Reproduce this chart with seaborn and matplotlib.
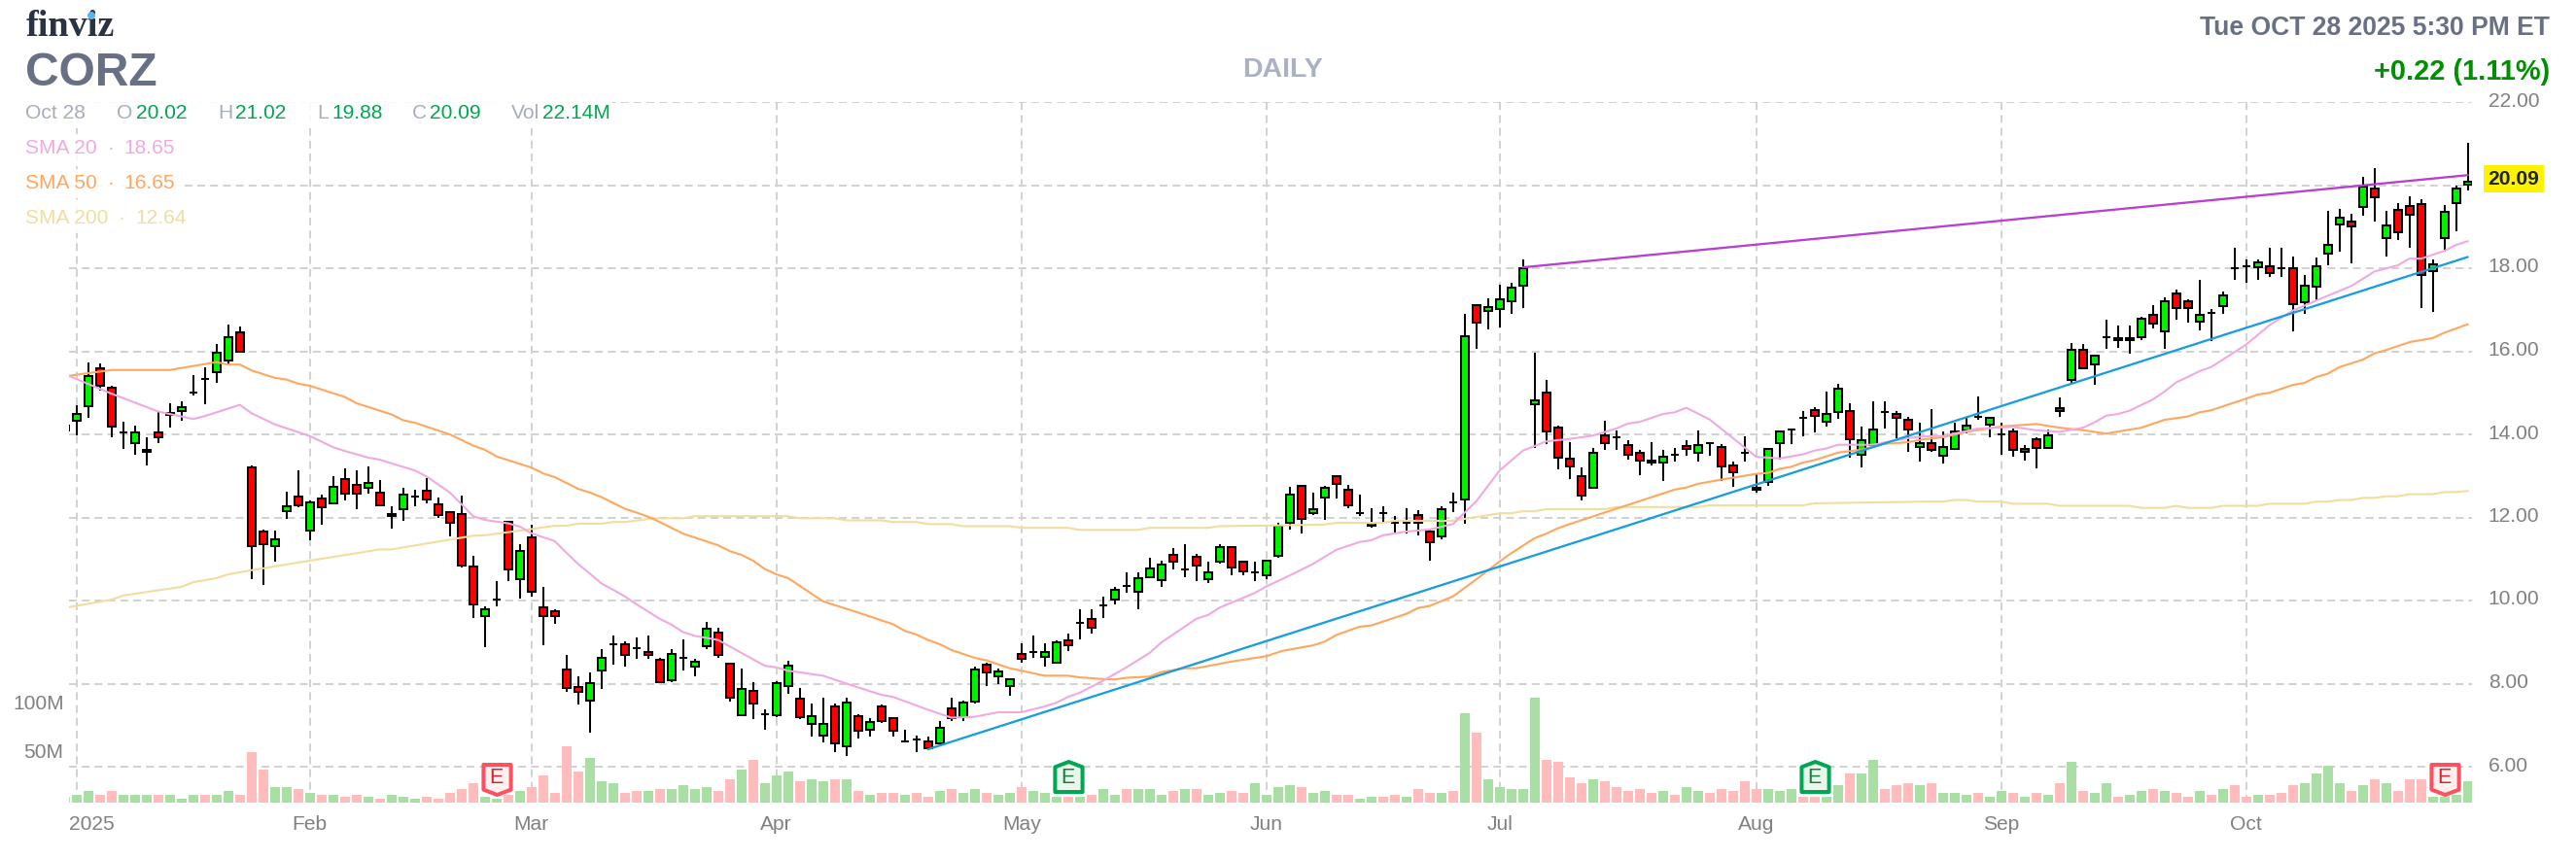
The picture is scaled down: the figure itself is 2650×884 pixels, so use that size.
import matplotlib
matplotlib.use("Agg")
import matplotlib.pyplot as plt
from matplotlib.path import Path
from matplotlib.patches import Rectangle, Ellipse
from matplotlib.transforms import ScaledTranslation
import seaborn as sns

W, H = 2650, 884
sns.set_theme(style="white")
plt.rcParams["font.family"] = ["Liberation Sans", "DejaVu Sans"]

# ---------- data ----------
candle_index = list(range(-1, 206))
opens = [14.2,
 14.32,14.69,15.60,15.13,14.04,13.80,13.63,14.05,14.52,14.55,
 15.0,15.34,15.49,15.77,16.45,13.21,11.66,11.32,12.16,12.5,
 11.69,12.46,12.35,12.92,12.78,12.72,12.6,12.09,12.21,12.5,
 12.64,12.32,12.13,12.08,10.82,9.63,10.02,11.9,10.52,11.52,
 9.84,9.74,8.34,7.92,7.58,8.32,8.95,8.95,8.85,8.76,
 8.57,8.09,8.62,8.42,8.89,9.23,8.48,7.25,7.82,7.26,
 7.25,7.95,7.64,7.03,6.75,7.45,6.5,7.22,6.89,7.45,
 7.17,6.6,6.65,6.61,6.56,7.4,7.2,7.56,8.45,8.18,
 7.95,8.71,8.76,8.65,8.51,9.04,9.46,9.56,9.88,10.02,
 10.34,10.2,10.57,10.48,11.1,10.76,11.05,10.52,10.94,11.29,
 10.93,10.67,10.6,11.08,11.86,12.77,12.1,12.47,13.0,12.67,
 12.1,11.87,12.1,11.87,11.87,12.07,11.65,11.54,12.36,12.43,
 17.12,16.96,17.01,17.2,17.57,14.72,15.01,14.17,13.42,13.0,
 12.71,13.98,13.94,13.75,13.56,13.37,13.31,13.51,13.71,13.55,
 13.79,13.7,13.24,13.56,12.72,12.85,13.78,14.12,14.4,14.59,
 14.3,14.53,14.55,13.5,13.74,14.54,14.5,14.36,13.69,13.79,
 13.49,13.65,14.1,14.43,14.24,14.01,14.07,13.64,13.88,13.68,
 14.63,15.31,16.03,15.69,16.35,16.32,16.32,16.33,16.87,16.48,
 17.39,17.2,16.72,16.92,17.09,17.99,18.04,18.03,18.04,17.99,
 18.0,17.19,17.56,18.36,19.06,19.12,19.48,19.91,18.73,19.4,
 19.49,19.54,17.93,18.73,19.57,20.02]
closes = [14.09,
 14.48,15.41,15.16,14.18,14.04,14.05,13.57,13.94,14.46,14.66,
 15.0,15.34,15.97,16.35,16.0,11.32,11.36,11.47,12.27,12.3,
 12.36,12.25,12.74,12.58,12.58,12.83,12.3,12.03,12.55,12.5,
 12.44,12.07,11.88,10.85,9.91,9.79,10.02,10.76,11.19,10.2,
 9.63,9.63,7.9,7.81,8.01,8.62,8.95,8.7,8.85,8.68,
 8.04,8.71,8.62,8.53,9.32,8.7,7.67,7.87,7.53,7.26,
 8.01,8.43,7.2,7.22,7.03,6.55,7.54,6.87,7.08,7.11,
 6.87,6.6,6.65,6.45,6.94,7.17,7.54,8.34,8.28,8.29,
 8.11,8.6,8.76,8.76,9.0,8.93,9.46,9.35,9.88,10.26,
 10.34,10.54,10.77,10.86,10.94,10.76,10.85,10.68,11.29,10.8,
 10.71,10.67,10.96,11.8,12.54,11.96,12.21,12.72,12.8,12.29,
 12.1,11.81,12.1,11.87,11.87,11.87,11.4,12.21,12.36,16.37,
 16.68,17.07,17.26,17.54,18.01,14.83,14.06,13.45,13.22,12.52,
 13.56,13.78,13.94,13.5,13.36,13.31,13.47,13.51,13.65,13.75,
 13.79,13.22,13.08,13.56,12.66,13.66,14.08,14.12,14.4,14.44,
 14.5,15.11,13.88,13.85,14.12,14.54,14.39,14.11,13.8,13.63,
 13.69,14.07,14.21,14.43,14.4,14.01,13.63,13.58,13.68,13.97,
 14.57,16.03,15.59,15.89,16.35,16.26,16.26,16.78,16.67,17.2,
 17.05,17.05,16.87,16.92,17.34,17.99,18.04,18.14,17.89,17.99,
 17.14,17.58,18.04,18.56,19.21,19.01,19.96,19.71,19.03,18.87,
 19.29,17.84,18.09,19.35,19.91,20.09]
highs = [14.2,
 14.71,15.74,15.71,15.18,14.30,14.2,13.92,14.57,14.76,14.80,
 15.43,15.61,16.17,16.64,16.6,13.26,11.71,11.68,12.61,13.13,
 12.41,12.56,12.99,13.17,13.13,13.22,12.89,12.28,12.71,12.66,
 12.94,12.47,12.13,12.52,11.07,9.85,10.46,11.9,11.35,11.82,
 10.32,9.79,8.68,8.17,8.26,8.82,9.15,9.01,9.1,9.15,
 8.63,8.82,9.06,8.59,9.48,9.34,8.48,8.36,8.03,7.37,
 8.07,8.54,7.89,7.51,7.65,7.51,7.65,7.26,7.17,7.5,
 7.17,6.9,6.76,6.72,7.09,7.65,7.59,8.4,8.5,8.36,
 8.11,8.96,9.15,8.96,9.04,9.2,9.8,9.8,10.09,10.32,
 10.69,10.69,11.02,10.97,11.26,11.35,11.12,10.93,11.35,11.29,
 10.97,10.93,10.96,11.86,12.74,12.77,12.6,12.77,13.0,12.78,
 12.55,12.22,12.27,12.04,12.22,12.18,11.71,12.27,12.6,16.9,
 17.12,17.28,17.6,17.65,18.21,15.97,15.31,14.22,13.81,13.2,
 13.67,14.33,14.09,13.86,13.63,13.81,13.63,13.67,13.86,14.09,
 13.79,13.77,13.35,13.95,13.06,13.66,14.08,14.12,14.56,14.65,
 15.03,15.22,14.75,14.19,14.8,14.8,14.56,14.42,14.28,14.6,
 14.08,14.27,14.41,14.92,14.4,14.27,14.13,13.75,13.94,14.11,
 14.88,16.19,16.17,15.89,16.75,16.61,16.61,16.83,17.12,17.3,
 17.48,17.25,17.71,17.01,17.43,18.48,18.2,18.2,18.48,18.48,
 18.29,17.83,18.25,19.37,19.42,19.32,20.21,20.4,19.37,19.56,
 19.74,19.65,18.2,19.51,19.98,21.02]
lows = [14.09,
 13.98,14.40,15.06,13.92,13.65,13.52,13.24,13.8,14.16,14.32,
 14.93,14.73,15.24,15.68,16.0,10.52,10.37,10.94,11.96,12.25,
 11.44,11.82,12.35,12.42,12.19,12.57,12.3,11.72,11.91,12.28,
 12.33,12.0,11.54,10.79,9.57,8.87,9.85,10.46,10.04,10.09,
 8.92,9.43,7.79,7.5,6.81,7.86,8.45,8.4,8.59,8.59,
 8.04,8.04,8.31,8.17,8.82,8.63,7.56,7.25,7.14,6.9,
 7.19,7.75,7.14,6.72,6.58,6.34,6.25,6.67,6.72,7.06,
 6.72,6.6,6.34,6.41,6.56,7.09,7.09,7.51,7.93,7.98,
 7.7,8.5,8.63,8.4,8.51,8.78,9.06,9.2,9.57,9.9,
 10.18,9.8,10.57,10.32,10.74,10.55,10.46,10.41,10.88,10.6,
 10.6,10.46,10.51,11.02,11.71,11.61,12.05,11.94,12.46,12.22,
 12.04,11.75,11.85,11.61,11.61,11.57,10.96,11.47,12.13,11.85,
 16.06,16.53,16.57,16.9,17.04,13.67,13.77,13.16,12.92,12.41,
 12.71,13.63,13.63,13.39,13.02,13.25,12.88,13.34,13.49,13.34,
 13.49,12.88,12.74,13.34,12.6,12.75,13.39,13.77,13.95,14.05,
 14.19,14.37,13.45,13.21,13.74,14.14,13.9,13.58,13.35,13.57,
 13.3,13.65,14.02,14.36,13.94,13.52,13.47,13.38,13.19,13.68,
 14.41,15.25,15.59,15.2,16.05,16.09,15.95,16.28,16.56,16.05,
 16.75,16.7,16.51,16.24,16.89,17.73,17.64,17.73,17.78,17.78,
 16.47,16.89,17.22,18.06,18.39,18.11,19.27,19.13,18.29,18.67,
 18.48,17.03,16.94,18.39,18.9,19.88]
volumes = [6,
 8,12,8,12,8,8,8,8,8,4,
 8,8,8,12,8,52,34,16,16,14,
 10,8,8,6,8,6,4,8,6,4,
 6,4,10,14,20,6,4,8,12,16,
 28,10,58,32,46,22,20,10,12,12,
 14,14,18,14,16,12,24,34,44,20,
 28,32,22,24,22,24,24,12,8,10,
 10,8,10,6,12,14,10,14,10,8,
 10,16,12,10,6,6,6,8,14,8,
 14,14,14,8,12,14,14,8,10,12,
 10,20,8,16,18,16,10,12,8,8,
 4,6,6,8,6,14,10,10,12,92,
 72,24,16,14,14,108,44,42,26,20,
 24,22,16,12,14,10,12,8,16,12,
 10,14,12,22,14,14,12,14,6,6,
 6,18,30,30,44,14,18,20,18,20,
 10,10,8,10,6,12,10,6,10,8,
 20,42,12,10,20,6,8,12,14,12,
 10,6,12,8,14,18,6,8,8,10,
 18,20,30,38,20,12,18,24,20,12,
 24,24,6,6,8,22]
volume_direction = list(
 "r"
 "ggrrgggrgggrggr" "rrggrg"
 "rgrrgrgggr" "rrrrggrgrr" "rrrgggrr"
 "grggggrrgr" "gggrggrgrg" "rrgrrgrggr" "ggrgggrgrg"
 "grgggrgrgg" "rrggg"
 "grggrrggrr" "grrgrgrggg" "ggrrrrgrrr" "rrgrggrrrr"
 "rgggrrggrg" "grrrgrgggr" "ggrgrgrgrg" "grggrgrrgr"
 "grrgrrrggg" "grgrgrrrgg" "gg")

sma20_x = [-0.67,3,7,10,11,14,15,17,20,22,23,25,26,29,30,32,33,34,35,37,38,39,41,42,43,44,45,46,47,48,50,51,52,53,55,57,59,60,61,64,66,69,70,73,75,77,79,81,83,84,85,86,88,90,92,93,96,97,98,101,102,103.4,106,108,110,111,112,114,116,118,120,122,124,126,128,130,132,133,134,136,137,138,140,142,144,146,148,149,150,151,154,157,158.3,160,163,166,168,170,172,173,174,175,176,178,179,180,182,183,186,188,190,192,195,197,199,200,201,203,204,205]
sma20_y = [15.41,14.98,14.55,14.37,14.44,14.71,14.51,14.24,13.96,13.69,13.6,13.44,13.39,13.13,12.99,12.6,12.32,12.03,11.94,11.86,11.78,11.62,11.43,11.15,10.88,10.65,10.41,10.26,10.1,9.91,9.56,9.42,9.24,9.15,9.05,8.74,8.43,8.39,8.31,8.19,8.0,7.73,7.68,7.37,7.18,7.2,7.31,7.31,7.45,7.54,7.68,7.78,8.07,8.39,8.74,8.99,9.56,9.65,9.83,10.18,10.34,10.52,10.88,11.22,11.41,11.45,11.57,11.66,11.71,11.84,12.39,13.13,13.61,13.83,13.89,13.97,14.14,14.26,14.3,14.49,14.53,14.64,14.36,13.91,13.46,13.42,13.52,13.61,13.66,13.75,13.75,13.91,13.95,13.96,14.14,14.18,14.1,14.06,14.16,14.29,14.45,14.49,14.57,14.84,15.03,15.25,15.52,15.62,16.16,16.63,16.98,17.22,17.57,17.92,18.07,18.23,18.23,18.42,18.56,18.65]
sma50_x = [-0.67,3,8,12,13,14,15,17,18,19,20,23,24,27,28,29,32,34,35,36,39,40,41,43,44,45,47,48.4,49.5,52,55,56,57,58,59,60,61,64,67,70,71,72,73,74,75,77,78,80,81,83,85,86,88,89,90,92,93,95,96,99,102,103.4,106,107,108,110,111,114,115,116,118,120,122,123,125,126,127,128,132,137,138,139,141,144,145,146,147,148,149,151,153,155,157,158.3,160,162,165,168,170,172,174,177,179,181,182,183,186,187,188,190,191,192,193,194,196,197,198,200,202,203,204,205]
sma50_y = [15.41,15.55,15.55,15.74,15.68,15.68,15.54,15.36,15.32,15.22,15.17,14.9,14.75,14.48,14.34,14.28,14.0,13.73,13.63,13.47,13.2,13.06,12.97,12.69,12.6,12.49,12.21,12.08,11.96,11.61,11.33,11.19,11.1,10.96,10.76,10.63,10.54,9.98,9.71,9.43,9.27,9.18,9.05,8.95,8.81,8.62,8.56,8.37,8.31,8.19,8.19,8.15,8.11,8.1,8.14,8.17,8.28,8.37,8.37,8.53,8.66,8.79,8.92,9.01,9.17,9.37,9.4,9.68,9.82,9.87,10.1,10.51,10.94,11.14,11.5,11.61,11.74,11.84,12.21,12.67,12.72,12.81,12.91,13.05,13.07,13.17,13.22,13.32,13.38,13.56,13.63,13.77,13.81,13.88,13.93,14.06,14.19,14.25,14.16,14.1,14.02,14.16,14.35,14.43,14.53,14.58,14.86,14.96,15.0,15.19,15.24,15.38,15.46,15.62,15.8,15.95,16.03,16.22,16.32,16.45,16.55,16.65]
sma200_x = [-0.67,3,4,9,10,12,13,15,20,26,27,34,35,39,41,42,43,45,46,47,48.4,49.5,52,53,61,62,65,66,69,70,72,73,75,76,80,81,85,86,91,92,97,98,103.4,107,108,112,113,118,120,122,123,124,125,126,131,132,139,140,148,149,158.3,160,161,162,163,165,166,169,170,176,177,179,180,181,183,184,187,188,191,192,193,194,195,196,197,198,199,200,202,203,204,205]
sma200_y = [9.84,10.02,10.12,10.33,10.44,10.54,10.63,10.73,10.96,11.23,11.23,11.56,11.57,11.72,11.8,11.8,11.85,11.85,11.89,11.89,11.94,11.98,11.98,12.03,12.03,11.98,11.98,11.93,11.93,11.89,11.89,11.84,11.84,11.79,11.79,11.75,11.75,11.7,11.7,11.75,11.75,11.79,11.81,11.83,11.87,11.87,11.92,11.92,12.01,12.1,12.1,12.15,12.15,12.2,12.2,12.25,12.25,12.29,12.29,12.34,12.38,12.38,12.42,12.42,12.38,12.38,12.33,12.33,12.28,12.28,12.23,12.23,12.28,12.23,12.23,12.28,12.28,12.33,12.33,12.38,12.38,12.42,12.42,12.47,12.47,12.51,12.51,12.56,12.56,12.61,12.61,12.64]

trend_blue_x, trend_blue_y = [73, 205], [6.42, 18.27]
trend_purple_x, trend_purple_y = [124, 205], [18.02, 20.24]

month_ticks = [0, 20, 39, 60, 81, 102, 122, 144, 165, 186]
month_labels = ["2025", "Feb", "Mar", "Apr", "May", "Jun", "Jul", "Aug", "Sep", "Oct"]
price_ticks = [6, 8, 10, 12, 14, 16, 18, 20, 22]
price_labels = ["6.00", "8.00", "10.00", "12.00", "14.00", "16.00", "18.00", "", "22.00"]
volume_ticks = [50, 100]
volume_labels = ["50M", "100M"]

earnings_red = [36, 203]
earnings_green = [85, 149]

# ---------- colours ----------
GRID = "#d2d2d2"
TICK = "#808080"
SLATE = "#677084"
C_20, C_50, C_200 = "#efabe0", "#ffa75f", "#f1dda0"
LABEL_GRAY = "#a6acbc"
VALUE_GREEN = "#00a651"

# ---------- layout (pixels) ----------
left, right, top, bottom = 70.7, 2543.0, 105.0, 826.0
fig = plt.figure(figsize=(W / 100, H / 100), dpi=100, facecolor="white")
ax = fig.add_axes([left / W, 1 - bottom / H, (right - left) / W, (bottom - top) / H])
vol_ax = ax.twinx()
vol_ax.set_zorder(ax.get_zorder() + 1)
vol_ax.patch.set_visible(False)
px = 1.0 / 100 * 72  # points per pixel

# ---------- volume ----------
sns.barplot(x=candle_index, y=volumes, hue=volume_direction,
            palette={"g": "#a9dfa5", "r": "#ffbcbc"}, hue_order=["g", "r"],
            native_scale=True, dodge=False, width=10 / 12, saturation=1,
            errorbar=None, legend=False, ax=vol_ax, linewidth=0)
vol_ax.set_ylim(0, bottom - top)

# ---------- candles ----------
ax.vlines(candle_index, lows, highs, color="black", lw=2 * px, zorder=3)
up = ["#00f000" if c >= o else "#ff0000" for o, c in zip(opens, closes)]
ax.bar(candle_index, [c - o for o, c in zip(opens, closes)], bottom=opens,
       width=7.6 / 12, color=up, edgecolor="black", linewidth=2 * px, zorder=4)

# ---------- moving averages and trend lines ----------
sns.lineplot(x=sma200_x, y=sma200_y, color=C_200, lw=2.1 * px, ax=ax, zorder=5, errorbar=None)
sns.lineplot(x=sma50_x, y=sma50_y, color=C_50, lw=2.1 * px, ax=ax, zorder=5, errorbar=None)
sns.lineplot(x=sma20_x, y=sma20_y, color=C_20, lw=2.1 * px, ax=ax, zorder=5, errorbar=None)
sns.lineplot(x=trend_blue_x, y=trend_blue_y, color="#1a9de0", lw=2.3 * px, ax=ax, zorder=6, errorbar=None)
sns.lineplot(x=trend_purple_x, y=trend_purple_y, color="#b93fd0", lw=2.3 * px, ax=ax, zorder=6, errorbar=None)

# ---------- axes ----------
ax.set_xlim((left - 78.7) / 12, (right - 78.7) / 12)
ax.set_ylim(22 - (bottom - top) / 42.75, 22)
for a in (ax, vol_ax):
    for s in a.spines.values():
        s.set_visible(False)
    a.set_xlabel("")
    a.set_ylabel("")

ax.set_xticks(month_ticks)
ax.set_xticklabels(month_labels)
ax.set_yticks(price_ticks)
ax.set_yticklabels(price_labels)
ax.yaxis.tick_right()
vol_ax.yaxis.tick_left()
vol_ax.set_yticks(volume_ticks)
vol_ax.set_yticklabels(volume_labels)
ax.tick_params(axis="x", length=0, pad=9.5, labelsize=15.1, labelcolor=TICK)
ax.tick_params(axis="y", length=0, pad=12, labelsize=15.1, labelcolor=TICK)
vol_ax.tick_params(axis="y", length=0, pad=3.7, labelsize=15.1, labelcolor=TICK)
ax.grid(True, color=GRID, lw=2 * px, linestyle=(0, (4, 2.6)), zorder=0)
ax.set_axisbelow(True)
vol_ax.grid(False)

up3 = ScaledTranslation(0, 3 / 100, fig.dpi_scale_trans)
for lab in ax.get_yticklabels() + vol_ax.get_yticklabels():
    lab.set_transform(lab.get_transform() + up3)
first = ax.get_xticklabels()[0]
first.set_horizontalalignment("left")
first.set_transform(first.get_transform() + ScaledTranslation(-8 / 100, 0, fig.dpi_scale_trans))

# ---------- earnings badges ----------
down_badge = Path([(-.5, .55), (.5, .55), (.5, -.36), (0, -.55), (-.5, -.36), (-.5, .55)], closed=True)
up_badge = Path([(-.5, -.55), (.5, -.55), (.5, .36), (0, .55), (-.5, .36), (-.5, -.55)], closed=True)
size = (31 * px) ** 2
vol_ax.scatter(earnings_red, [24.5] * 2, marker=down_badge, s=size, facecolor="#fff0f0",
               edgecolor="#ff5060", linewidth=4 * px, zorder=8)
vol_ax.scatter(earnings_green, [27.5] * 2, marker=up_badge, s=size, facecolor="#e8f6ec",
               edgecolor="#00a651", linewidth=4 * px, zorder=8)
for i in earnings_red:
    vol_ax.text(i, 25.5, "E", ha="center", va="center", color="#d6202f", fontsize=15.5, zorder=9)
for i in earnings_green:
    vol_ax.text(i, 25.5, "E", ha="center", va="center", color="#1a7a3c", fontsize=15.5, zorder=9)

# ---------- header and legend text ----------
def fx(x): return x / W
def fy(y): return 1 - y / H
def t(x, y, s, color, size=15.1, ha="left", **kw):
    fig.text(fx(x), fy(y), s, color=color, fontsize=size, ha=ha, va="center", zorder=20, **kw)

for (x0, y0, x1, y1) in [(20, 101, 630, 132), (20, 138, 186, 168), (20, 174, 186, 204), (20, 210, 197, 240)]:
    fig.add_artist(Rectangle((fx(x0), fy(y1)), (x1 - x0) / W, (y1 - y0) / H, transform=fig.transFigure,
                             facecolor="white", edgecolor="none", alpha=0.88, zorder=15))

t(26.5, 27.5, "finviz", "#2b3342", size=27.5, family="Liberation Serif", weight="bold")
fig.add_artist(Ellipse((fx(94), fy(16)), 8 / W, 8 / H, transform=fig.transFigure,
                       facecolor="#5ab4f5", edgecolor="none", zorder=21))
t(26, 76, "CORZ", SLATE, size=34.5, weight="bold")
t(1320, 72, "DAILY", "#aab1c2", size=20.5, ha="center", weight="bold")
t(2623, 29, "Tue OCT 28 2025 5:30 PM ET", SLATE, size=19.1, ha="right", weight="bold")
t(2623, 74, "+0.22 (1.11%)", "#008f00", size=20.9, ha="right", weight="bold")

y_row = 117
for x, s, c in [(26.5, "Oct 28", LABEL_GRAY), (120, "O", LABEL_GRAY), (140, "20.02", VALUE_GREEN),
                (224, "H", LABEL_GRAY), (242, "21.02", VALUE_GREEN), (326.6, "L", LABEL_GRAY),
                (341, "19.88", VALUE_GREEN), (424, "C", LABEL_GRAY), (442, "20.09", VALUE_GREEN),
                (526, "Vol", LABEL_GRAY), (557.6, "22.14M", VALUE_GREEN)]:
    t(x, y_row, s, c)
for y, name, val, col, xd, xv in [(152.7, "SMA 20", "18.65", C_20, 113.6, 127),
                                  (188, "SMA 50", "16.65", C_50, 113.6, 127),
                                  (224, "SMA 200", "12.64", C_200, 125, 139)]:
    t(26.5, y, name, col)
    t(xd, y, "·", col, ha="center")
    t(xv, y, val, col)

fig.text(fx(2586), fy(184), "20.09", color="#1f2233", fontsize=15.1, weight="bold", ha="center",
         va="center", zorder=20, bbox=dict(facecolor="#fff200", edgecolor="none", boxstyle="square,pad=0.22"))

fig.savefig("out.png", dpi=100)
